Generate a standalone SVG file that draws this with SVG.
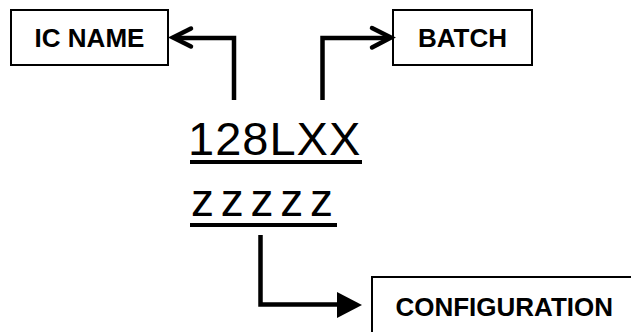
<svg xmlns="http://www.w3.org/2000/svg" width="631" height="332" viewBox="0 0 631 332">
<style>
.box{fill:#fff;stroke:#000;stroke-width:2}
.lbl{font-family:"Liberation Sans",Arial,sans-serif;font-weight:bold;font-size:26px;fill:#000}
.big{font-family:"Liberation Sans",Arial,sans-serif;fill:#000}
.conn{fill:none;stroke:#000;stroke-width:4.5;stroke-linejoin:miter}
.chev{fill:none;stroke:#000;stroke-width:4.5;stroke-linecap:round;stroke-linejoin:miter}
.ul{fill:#000}
</style>
<rect width="631" height="332" fill="#fff"/>
<g id="ic-name">
<rect class="box" x="11" y="10" width="157" height="55"/>
<text class="lbl" x="89.5" y="47" text-anchor="middle">IC NAME</text>
</g>
<g id="batch">
<rect class="box" x="393" y="10" width="139" height="55"/>
<text class="lbl" x="462.5" y="47" text-anchor="middle">BATCH</text>
</g>
<g id="configuration">
<rect class="box" x="372" y="277" width="280" height="80"/>
<text class="lbl" x="395.4" y="316">CONFIGURATION</text>
</g>
<g id="code">
<text class="big" x="188" y="155" font-size="47" letter-spacing="1">128LXX</text>
<rect class="ul" x="190" y="160" width="172" height="4"/>
<text class="big" x="191" y="216" font-size="46" letter-spacing="6.75">zzzzz</text>
<rect class="ul" x="190" y="223" width="147" height="4"/>
</g>
<g id="connectors">
<path class="conn" d="M234,100 V38 H175"/>
<polyline class="chev" points="191,28.5 173,37.5 191,46.5"/>
<path class="conn" d="M322.5,100 V38 H389"/>
<polyline class="chev" points="372,28 391,37.5 372,47.5"/>
<path class="conn" d="M260.5,235 V304.5 H340"/>
<polygon points="337,292 362,305 337,318" fill="#000"/>
</g>
</svg>
